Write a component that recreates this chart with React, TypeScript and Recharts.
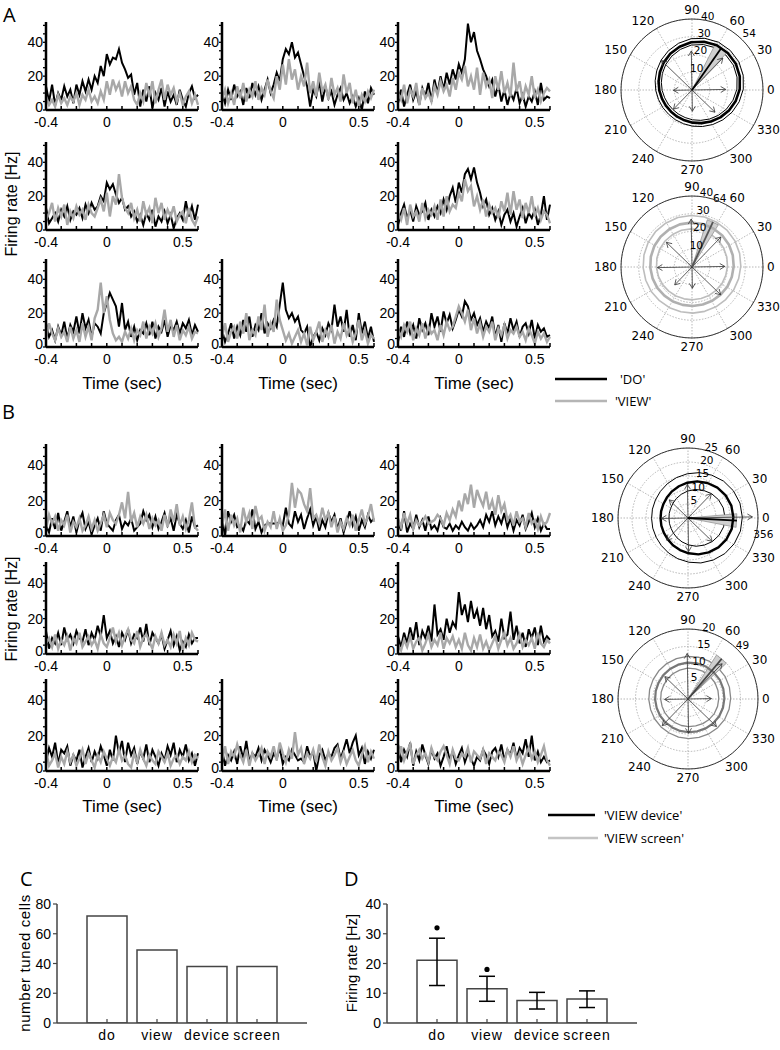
import React from "react";
import {
  LineChart, Line, XAxis, YAxis,
  RadarChart, Radar, PolarGrid, PolarAngleAxis, PolarRadiusAxis,
  ComposedChart, Bar, ErrorBar, Scatter,
} from "recharts";

const SANS = '"Liberation Sans", Arial, sans-serif';
const POLAR_FONT = '"DejaVu Sans", sans-serif';
const TITLE_FONT = '"Open Sans", sans-serif';

// ---------- PSTH data (time bins in sec, rates in Hz) ----------
const TIME = [
  -0.4, -0.38, -0.36, -0.34, -0.32, -0.3, -0.28, -0.26, -0.24, -0.22,
  -0.2, -0.18, -0.16, -0.14, -0.12, -0.1, -0.08, -0.06, -0.04, -0.02,
  0, 0.02, 0.04, 0.06, 0.08, 0.1, 0.12, 0.14, 0.16, 0.18,
  0.2, 0.22, 0.24, 0.26, 0.28, 0.3, 0.32, 0.34, 0.36, 0.38,
  0.4, 0.42, 0.44, 0.46, 0.48, 0.5, 0.52, 0.54, 0.56, 0.58,
  0.6,
];
const X_TICKS = [-0.4, -0.3, -0.2, -0.1, 0, 0.1, 0.2, 0.3, 0.4, 0.5, 0.6];
const X_LABELS = [-0.4, 0, 0.5];
const Y_TICKS = [0, 5, 10, 15, 20, 25, 30, 35, 40, 45, 50];
const Y_LABELS = [0, 20, 40];

// panel A: 'DO' (black) vs 'VIEW' (grey)
const A1_DO = [14, 5, 15, 3, 10, 6, 14, 8, 12, 4, 15, 9, 17, 11, 18, 12, 20, 16, 26, 20, 33, 27, 31, 30, 36, 28, 24, 19, 21, 9, 16, 2, 12, 5, 14, 1, 10, 6, 13, 2, 11, 5, 9, 3, 12, 6, 2, 10, 14, 7, 9];
const A1_VIEW = [8, 3, 6, 2, 9, 4, 7, 3, 8, 5, 10, 3, 9, 6, 12, 5, 8, 4, 11, 6, 17, 9, 18, 12, 16, 8, 17, 10, 14, 6, 3, 10, 5, 16, 8, 17, 4, 12, 18, 6, 15, 9, 13, 5, 10, 3, 8, 11, 4, 9, 3];
const A2_DO = [10, 4, 12, 6, 15, 8, 11, 3, 13, 7, 16, 9, 14, 6, 12, 18, 10, 15, 22, 17, 30, 36, 33, 40, 31, 34, 27, 20, 14, 2, 12, 8, 17, 5, 14, 7, 11, 3, 9, 13, 6, 10, 4, 8, 2, 7, 0, 11, 4, 13, 9];
const A2_VIEW = [6, 12, 4, 10, 3, 14, 7, 16, 5, 12, 8, 17, 6, 13, 9, 18, 11, 7, 20, 12, 27, 15, 30, 18, 24, 12, 20, 14, 28, 10, 17, 8, 22, 11, 15, 6, 19, 9, 13, 5, 21, 10, 16, 4, 12, 2, 9, 5, 11, 7, 12];
const A3_DO = [4, 12, 2, 9, 15, 6, 11, 3, 13, 8, 16, 5, 18, 10, 20, 12, 22, 15, 24, 18, 27, 22, 30, 51, 40, 46, 35, 30, 24, 20, 14, 18, 8, 15, 5, 12, 3, 10, 6, 13, 4, 9, 2, 8, 5, 11, 3, 16, 6, 8, 7];
const A3_VIEW = [10, 6, 15, 4, 12, 8, 16, 3, 13, 7, 10, 5, 14, 9, 17, 11, 15, 8, 19, 12, 22, 18, 26, 14, 20, 12, 25, 9, 22, 14, 18, 7, 20, 12, 23, 10, 16, 8, 28, 11, 17, 6, 14, 9, 20, 7, 12, 5, 10, 13, 11];
const A4_DO = [13, 4, 7, 10, 5, 12, 8, 14, 6, 11, 9, 13, 7, 15, 10, 16, 12, 14, 20, 17, 28, 24, 27, 21, 16, 19, 12, 14, 8, 11, 5, 9, 3, 10, 6, 12, 2, 8, 5, 11, 4, 9, 1, 7, 10, 6, 17, 8, 14, 6, 15];
const A4_VIEW = [6, 10, 16, 5, 13, 8, 15, 3, 11, 7, 14, 9, 12, 6, 15, 10, 8, 13, 18, 11, 22, 8, 20, 15, 33, 19, 13, 10, 16, 7, 12, 5, 17, 9, 13, 4, 19, 10, 16, 6, 12, 8, 14, 5, 9, 11, 4, 13, 6, 3, 8];
const A5_DO = [3, 10, 15, 7, 12, 5, 14, 9, 11, 16, 6, 12, 8, 14, 10, 18, 12, 20, 25, 16, 28, 22, 33, 36, 30, 37, 28, 22, 14, 18, 9, 13, 6, 11, 3, 9, 12, 5, 10, 2, 8, 13, 4, 10, 7, 12, 3, 9, 20, 6, 15];
const A5_VIEW = [10, 6, 13, 3, 15, 8, 11, 5, 16, 7, 12, 9, 14, 6, 18, 8, 20, 11, 15, 13, 22, 17, 30, 23, 26, 14, 20, 12, 18, 8, 15, 10, 13, 7, 17, 11, 22, 9, 23, 12, 18, 7, 16, 10, 20, 8, 13, 6, 11, 9, 4];
const A6_DO = [14, 6, 10, 4, 12, 7, 15, 5, 13, 9, 18, 8, 20, 11, 16, 6, 14, 12, 8, 20, 26, 32, 28, 24, 12, 26, 10, 15, 6, 12, 4, 10, 8, 14, 7, 15, 5, 12, 9, 16, 6, 13, 10, 15, 8, 14, 11, 16, 7, 13, 9];
const A6_VIEW = [5, 14, 8, 4, 11, 6, 9, 3, 12, 5, 10, 3, 14, 6, 12, 4, 17, 22, 38, 20, 30, 16, 8, 4, 6, 3, 9, 5, 11, 4, 10, 7, 15, 5, 12, 8, 14, 6, 11, 22, 9, 16, 6, 13, 4, 10, 7, 12, 5, 9, 8];
const A7_DO = [10, 3, 8, 14, 5, 12, 7, 16, 9, 18, 6, 13, 10, 20, 8, 14, 11, 16, 12, 25, 38, 22, 17, 20, 15, 18, 10, 8, 12, 0, 6, 9, 4, 11, 7, 14, 10, 25, 12, 18, 9, 22, 6, 13, 4, 20, 8, 15, 5, 12, 3];
const A7_VIEW = [6, 14, 3, 9, 12, 5, 15, 8, 20, 4, 10, 7, 18, 10, 25, 6, 14, 9, 28, 16, 10, 4, 8, 2, 6, 10, 3, 8, 1, 12, 4, 9, 15, 3, 10, 6, 13, 2, 9, 5, 14, 7, 11, 3, 8, 16, 4, 10, 2, 7, 5];
const A8_DO = [3, 12, 6, 15, 8, 13, 5, 17, 10, 14, 7, 20, 12, 18, 9, 21, 14, 19, 11, 16, 22, 18, 27, 24, 16, 20, 13, 17, 9, 15, 11, 18, 6, 13, 3, 14, 8, 17, 10, 15, 6, 12, 14, 8, 16, 5, 13, 9, 11, 6, 7];
const A8_VIEW = [10, 6, 13, 9, 15, 4, 11, 7, 14, 5, 12, 8, 10, 4, 13, 7, 15, 10, 12, 18, 24, 20, 15, 22, 10, 17, 8, 14, 6, 12, 9, 15, 4, 11, 7, 13, 5, 10, 8, 12, 6, 9, 4, 11, 7, 2, 9, 5, 8, 3, 6];

// panel B: 'VIEW device' (black) vs 'VIEW screen' (grey)
const B1_DEV = [6, 2, 10, 4, 13, 3, 8, 14, 5, 11, 2, 9, 13, 4, 8, 1, 6, 10, 3, 14, 7, 5, 3, 9, 12, 4, 8, 6, 10, 3, 5, 7, 14, 9, 12, 5, 11, 4, 8, 13, 6, 10, 3, 12, 7, 4, 9, 2, 11, 5, 6];
const B1_SCR = [4, 12, 7, 11, 3, 9, 6, 12, 2, 8, 5, 10, 3, 6, 11, 4, 9, 3, 7, 12, 5, 13, 9, 7, 12, 19, 10, 25, 8, 13, 5, 11, 7, 12, 4, 10, 6, 9, 3, 12, 5, 15, 8, 18, 6, 11, 4, 9, 19, 5, 3];
const B2_DEV = [10, 0, 14, 8, 12, 5, 6, 3, 9, 7, 15, 4, 8, 2, 6, 7, 7, 7, 7, 8, 6, 16, 7, 5, 14, 8, 12, 4, 10, 15, 6, 11, 3, 9, 5, 13, 8, 12, 4, 10, 2, 8, 14, 6, 11, 3, 9, 5, 12, 8, 10];
const B2_SCR = [5, 15, 3, 12, 6, 10, 2, 16, 8, 13, 4, 17, 9, 11, 3, 8, 5, 14, 4, 10, 3, 6, 12, 30, 16, 26, 24, 18, 14, 27, 10, 12, 7, 16, 9, 13, 5, 11, 2, 8, 4, 10, 6, 12, 3, 9, 15, 7, 11, 18, 8];
const B3_DEV = [8, 3, 14, 2, 7, 4, 12, 5, 9, 3, 11, 4, 6, 3, 10, 5, 4, 7, 3, 6, 4, 8, 5, 3, 7, 4, 6, 9, 5, 12, 8, 14, 6, 11, 7, 13, 5, 10, 3, 9, 6, 12, 4, 8, 13, 5, 10, 3, 7, 4, 4];
const B3_SCR = [10, 5, 13, 7, 12, 4, 9, 6, 8, 11, 7, 8, 9, 12, 10, 6, 13, 9, 15, 11, 20, 14, 24, 18, 29, 16, 26, 21, 17, 25, 15, 20, 12, 23, 14, 18, 9, 12, 6, 14, 8, 10, 5, 13, 7, 9, 4, 11, 6, 8, 13];
const B4_DEV = [13, 3, 9, 6, 12, 5, 15, 8, 11, 6, 13, 9, 7, 14, 5, 12, 8, 16, 10, 22, 9, 13, 6, 10, 4, 12, 8, 14, 6, 11, 9, 15, 7, 17, 5, 12, 9, 6, 11, 3, 8, 13, 5, 10, 2, 7, 4, 11, 6, 9, 9];
const B4_SCR = [6, 9, 4, 11, 3, 8, 5, 10, 2, 9, 6, 12, 4, 7, 10, 5, 8, 3, 11, 6, 4, 9, 15, 7, 12, 5, 10, 14, 8, 6, 13, 4, 9, 11, 7, 3, 10, 6, 12, 5, 8, 4, 11, 6, 13, 2, 9, 5, 12, 8, 7];
const B5_DEV = [10, 4, 12, 6, 15, 8, 18, 5, 13, 9, 16, 7, 28, 11, 14, 8, 20, 12, 18, 15, 35, 22, 28, 18, 30, 20, 25, 16, 26, 14, 22, 10, 13, 7, 20, 9, 11, 24, 8, 16, 6, 12, 4, 14, 9, 15, 5, 16, 7, 10, 8];
const B5_SCR = [5, 2, 8, 4, 10, 3, 7, 9, 2, 6, 11, 4, 8, 5, 12, 3, 9, 6, 10, 4, 8, 3, 12, 5, 2, 9, 4, 11, 3, 7, 2, 6, 10, 3, 8, 12, 5, 9, 3, 6, 11, 4, 8, 5, 9, 3, 12, 6, 4, 8, 6];
const B6_DEV = [5, 13, 8, 16, 4, 12, 10, 14, 3, 9, 6, 12, 2, 8, 13, 5, 11, 7, 14, 9, 3, 12, 6, 20, 10, 17, 5, 16, 9, 13, 4, 11, 7, 15, 5, 12, 8, 3, 10, 6, 14, 9, 16, 5, 12, 8, 15, 6, 10, 3, 10];
const B6_SCR = [12, 3, 6, 10, 2, 8, 4, 11, 5, 9, 3, 7, 12, 4, 10, 6, 2, 9, 5, 11, 7, 3, 8, 5, 12, 6, 9, 4, 2, 10, 5, 12, 7, 3, 9, 6, 4, 11, 8, 5, 10, 3, 7, 9, 4, 8, 6, 11, 5, 9, 7];
const B7_DEV = [12, 3, 9, 6, 11, 4, 14, 7, 17, 5, 10, 8, 13, 6, 12, 9, 5, 10, 7, 13, 4, 8, 6, 12, 9, 6, 7, 5, 14, 8, 11, 0, 9, 12, 6, 10, 8, 13, 15, 7, 12, 18, 10, 16, 20, 9, 13, 4, 11, 7, 12];
const B7_SCR = [6, 14, 4, 11, 8, 15, 9, 5, 12, 3, 10, 6, 9, 13, 4, 11, 8, 14, 6, 16, 10, 5, 12, 7, 22, 9, 13, 4, 10, 7, 12, 5, 15, 8, 3, 11, 6, 9, 13, 5, 10, 4, 8, 12, 6, 3, 9, 14, 5, 11, 7];
const B8_DEV = [15, 5, 12, 8, 16, 3, 11, 6, 15, 9, 4, 12, 7, 10, 3, 8, 14, 6, 11, 4, 9, 13, 5, 10, 7, 3, 8, 6, 12, 9, 4, 11, 13, 8, 15, 6, 12, 9, 16, 7, 13, 10, 18, 8, 20, 6, 11, 5, 8, 5, 6];
const B8_SCR = [8, 14, 6, 11, 15, 4, 9, 12, 7, 10, 5, 13, 8, 6, 11, 14, 9, 4, 12, 7, 6, 10, 8, 13, 5, 11, 9, 7, 12, 4, 10, 8, 6, 11, 9, 5, 12, 8, 14, 6, 10, 4, 9, 13, 7, 11, 5, 9, 14, 6, 3];

// ---------- polar tuning plots ----------
const RING_DEG = [0, 15, 30, 45, 60, 75, 90, 105, 120, 135, 150, 165, 180, 195, 210, 225, 240, 255, 270, 285, 300, 315, 330, 345];
const ARROW_DEG = [0, 45, 90, 135, 180, 225, 270, 315];
const GRID_DEG = [0, 30, 60, 90, 120, 150, 180, 210, 240, 270, 300, 330];
const ALL_DEG = Array.from({ length: 360 }, (_, i) => i);

const DO_MEAN = [26.9, 28.0, 28.8, 29.0, 28.8, 28.0, 26.9, 25.4, 23.8, 22.2, 20.7, 19.4, 18.4, 17.6, 17.2, 17.0, 17.2, 17.6, 18.4, 19.4, 20.7, 22.2, 23.8, 25.4];
const DO_HI = [28.9, 30.0, 30.8, 31.0, 30.8, 30.0, 28.9, 27.4, 25.8, 24.2, 22.7, 21.4, 20.4, 19.6, 19.2, 19.0, 19.2, 19.6, 20.4, 21.4, 22.7, 24.2, 25.8, 27.4];
const DO_LO = [25.3, 26.4, 27.2, 27.4, 27.2, 26.4, 25.3, 23.8, 22.2, 20.6, 19.1, 17.8, 16.8, 16.0, 15.6, 15.4, 15.6, 16.0, 16.8, 17.8, 19.1, 20.6, 22.2, 23.8];
const DO_ARROWS = [19, 25, 22, 24, 10.5, 15, 12, 18];

const VIEW_MEAN = [23.5, 23.9, 24.3, 24.6, 24.8, 25.0, 25.0, 25.0, 24.8, 24.6, 24.3, 23.9, 23.5, 23.1, 22.8, 22.4, 22.2, 22.0, 22.0, 22.0, 22.2, 22.4, 22.8, 23.1];
const VIEW_HI = [27.5, 27.9, 28.3, 28.6, 28.8, 29.0, 29.0, 29.0, 28.8, 28.6, 28.3, 27.9, 27.5, 27.1, 26.8, 26.4, 26.2, 26.0, 26.0, 26.0, 26.2, 26.4, 26.8, 27.1];
const VIEW_LO = [20.0, 20.4, 20.8, 21.1, 21.3, 21.5, 21.5, 21.5, 21.3, 21.1, 20.8, 20.4, 20.0, 19.6, 19.3, 18.9, 18.7, 18.5, 18.5, 18.5, 18.7, 18.9, 19.3, 19.6];
const VIEW_ARROWS = [18.5, 23.5, 27, 20, 19.5, 14, 12, 22.5];

const DEV_MEAN = [16.2, 16.1, 15.7, 15.1, 14.3, 13.5, 12.6, 11.8, 11.1, 10.5, 10.1, 9.9, 9.8, 9.9, 10.1, 10.5, 11.1, 11.8, 12.6, 13.5, 14.3, 15.1, 15.7, 16.1];
const DEV_HI = [19.4, 19.3, 18.9, 18.3, 17.5, 16.7, 15.8, 15.0, 14.3, 13.7, 13.3, 13.1, 13.0, 13.1, 13.3, 13.7, 14.3, 15.0, 15.8, 16.7, 17.5, 18.3, 18.9, 19.3];
const DEV_LO = [13.2, 13.1, 12.7, 12.1, 11.3, 10.5, 9.6, 8.8, 8.1, 7.5, 7.1, 6.9, 6.8, 6.9, 7.1, 7.5, 8.1, 8.8, 9.6, 10.5, 11.3, 12.1, 12.7, 13.1];
const DEV_ARROWS = [23, 12, 12, 9.3, 9.5, 11, 12, 12];

const SCR_MEAN = [10.4, 10.5, 10.6, 10.6, 10.6, 10.5, 10.4, 10.2, 10.0, 9.8, 9.6, 9.5, 9.4, 9.3, 9.3, 9.3, 9.3, 9.4, 9.5, 9.6, 9.8, 10.0, 10.2, 10.3];
const SCR_HI = [12.2, 12.3, 12.4, 12.4, 12.4, 12.3, 12.2, 12.0, 11.8, 11.6, 11.4, 11.3, 11.2, 11.1, 11.1, 11.1, 11.1, 11.2, 11.3, 11.4, 11.6, 11.8, 12.0, 12.1];
const SCR_LO = [8.8, 8.9, 9.0, 9.0, 9.0, 8.9, 8.8, 8.6, 8.4, 8.2, 8.0, 7.9, 7.8, 7.7, 7.7, 7.7, 7.7, 7.8, 7.9, 8.0, 8.2, 8.4, 8.6, 8.7];
const SCR_ARROWS = [6.7, 14, 13, 9.2, 6.7, 10.6, 9.8, 11.3];

// preferred direction (deg), its length, wedge edges
const PREF_DEG = [54, 64, 356, 49];
const PREF_R = [29, 28, 17.5, 15];
const WEDGE_EDGES = [[46, 62], [57, 71], [348, 4], [42, 56]];

// ---------- bar panels ----------
const CONDITIONS = ["do", "view", "device", "screen"];
const TUNED_CELLS = [72, 49, 38, 38];
const MEAN_RATE = [21.1, 11.5, 7.6, 8.1];
const RATE_UPPER = [28.5, 15.7, 10.3, 10.8];
const RATE_LOWER = [12.6, 7.3, 4.7, 5.2];
const SIGNIFICANT = [32, 18, null, null];

// ---------- PSTH chart ----------
const near = (a: number, b: number) => Math.abs(a - b) < 1e-6;

const renderXTick = (props: any) => {
  const { x, y, payload } = props;
  const v = Number(payload.value);
  const show = X_LABELS.some((l) => near(l, v));
  return (
    <g>
      <line x1={x} x2={x} y1={y} y2={y - 4} stroke="#000" strokeWidth={1.5} />
      {show && (
        <text x={x} y={y + 17} textAnchor="middle" fontSize={14} fontFamily={SANS} fill="#000">
          {near(v, 0) ? "0" : String(v)}
        </text>
      )}
    </g>
  );
};

const renderYTick = (props: any) => {
  const { x, y, payload } = props;
  const v = Number(payload.value);
  return (
    <g>
      <line x1={x} x2={x - 3} y1={y} y2={y} stroke="#000" strokeWidth={1.3} />
      {Y_LABELS.includes(v) && (
        <text x={x - 3} y={v === 0 ? y + 2 : y + 5} textAnchor="end" fontSize={14} fontFamily={SANS} fill="#000">
          {v}
        </text>
      )}
    </g>
  );
};

function Psth({ left, axisY, h, a, b }: any) {
  const rows = TIME.map((t, i) => ({ t, a: a[i], b: b[i] }));
  return (
    <div style={{ position: "absolute", left: left - 32, top: axisY - h - 4 }}>
      <LineChart width={192} height={h + 30} data={rows} margin={{ top: 4, right: 8, bottom: 0, left: 0 }}>
        <XAxis
          dataKey="t" type="number" domain={[-0.4, 0.6]} ticks={X_TICKS} height={26}
          axisLine={{ stroke: "#000", strokeWidth: 2.5 }} tickLine={false} tickSize={0} tickMargin={0}
          tick={renderXTick} interval={0}
        />
        <YAxis
          domain={[0, 52]} ticks={Y_TICKS} width={32} allowDataOverflow
          axisLine={{ stroke: "#000", strokeWidth: 2.5 }} tickLine={false} tickSize={0} tickMargin={0}
          tick={renderYTick} interval={0}
        />
        <Line type="linear" dataKey="a" stroke="#000" strokeWidth={2} dot={false} isAnimationActive={false} />
        <Line type="linear" dataKey="b" stroke="#a8a8a8" strokeWidth={2.4} dot={false} isAnimationActive={false} />
      </LineChart>
    </div>
  );
}

// ---------- polar chart ----------
// only the points that carry a value for this series
const pick = (props: any, key: string) =>
  (props.points || []).filter((p: any) => {
    const v = p.payload ? p.payload[key] : p.value;
    return v != null && Number.isFinite(p.x) && Number.isFinite(p.y);
  });

function polarRows(c: any) {
  const rows: any[] = ALL_DEG.map((d) => ({ deg: d }));
  RING_DEG.forEach((d, i) => {
    rows[d].mean = c.mean[i];
    rows[d].hi = c.hi[i];
    rows[d].lo = c.lo[i];
  });
  ARROW_DEG.forEach((d, i) => {
    rows[d].arrow = c.arrows[i];
  });
  c.wedge.forEach((d: number) => {
    rows[(d + 360) % 360].wedge = c.prefR;
  });
  rows[c.pref].pref = c.prefR;
  rows[c.noteDeg].note = c.max;
  return rows;
}

function Polar(c: any) {
  const S = 200;
  const cx = 100;
  const cy = 100;
  const rows = polarRows(c);

  const ring = (key: string, color: string, w: number) => (props: any) => {
    const pts = pick(props, key);
    return <polygon points={pts.map((p: any) => `${p.x},${p.y}`).join(" ")} fill="none" stroke={color} strokeWidth={w} strokeLinejoin="round" />;
  };
  const arrows = (props: any) => {
    const pts = pick(props, "arrow");
    return (
      <g>
        {pts.map((p: any, i: number) => {
          const dx = p.x - cx;
          const dy = p.y - cy;
          const L = Math.hypot(dx, dy) || 1;
          const ux = dx / L;
          const uy = dy / L;
          const bx = p.x - ux * 5;
          const by = p.y - uy * 5;
          return (
            <g key={i}>
              <line x1={cx} y1={cy} x2={p.x} y2={p.y} stroke="#333" strokeWidth={0.8} />
              <polyline
                points={`${bx - uy * 3},${by + ux * 3} ${p.x},${p.y} ${bx + uy * 3},${by - ux * 3}`}
                fill="none" stroke="#333" strokeWidth={0.8}
              />
            </g>
          );
        })}
      </g>
    );
  };
  const wedge = (props: any) => {
    const pts = pick(props, "wedge");
    const all = [`${cx},${cy}`, ...pts.map((p: any) => `${p.x},${p.y}`)].join(" ");
    return <polygon points={all} fill="#cfcfcf" stroke="#8a8a8a" strokeWidth={0.7} />;
  };
  const prefLine = (props: any) => {
    const pts = pick(props, "pref");
    return (
      <g>
        {pts.map((p: any, i: number) => (
          <line key={i} x1={cx} y1={cy} x2={p.x} y2={p.y} stroke={c.prefColor} strokeWidth={1.8} />
        ))}
      </g>
    );
  };
  const note = (props: any) => {
    const pts = pick(props, "note");
    return (
      <g>
        {pts.map((p: any, i: number) => {
          const dx = p.x - cx;
          const dy = p.y - cy;
          const L = Math.hypot(dx, dy) || 1;
          return (
            <text key={i} x={p.x + (dx / L) * c.noteOff} y={p.y + (dy / L) * c.noteOff}
              textAnchor="middle" dominantBaseline="central" fontSize={10.5} fontFamily={POLAR_FONT} fill="#000">
              {c.noteText}
            </text>
          );
        })}
      </g>
    );
  };
  const angleTick = (props: any) => {
    const d = Number(props.payload?.value);
    if (d % 30 !== 0) return <g />;
    const a = (d * Math.PI) / 180;
    const cos = Math.cos(a);
    const sin = Math.sin(a);
    const anchor = cos > 0.05 ? "start" : cos < -0.05 ? "end" : "middle";
    return (
      <text x={cx + (c.r + 4) * cos} y={cy - (c.r + 9) * sin} textAnchor={anchor} dominantBaseline="central"
        fontSize={12} fontFamily={POLAR_FONT} fill="#000">
        {d}
      </text>
    );
  };
  const radiusTick = (props: any) => {
    const { x, y, payload } = props;
    const dx = x - cx;
    const dy = y - cy;
    const L = Math.hypot(dx, dy) || 1;
    return (
      <text x={x + (dx / L) * 5} y={y + (dy / L) * 5} textAnchor="middle" dominantBaseline="central"
        fontSize={10.5} fontFamily={POLAR_FONT} fill="#000">
        {payload.value}
      </text>
    );
  };

  return (
    <div style={{ position: "absolute", left: c.x - cx, top: c.y - cy }}>
      <RadarChart width={S} height={S} cx={cx} cy={cy} outerRadius={c.r} startAngle={0} endAngle={360}
        data={rows} margin={{ top: 0, right: 0, bottom: 0, left: 0 }}>
        <PolarGrid gridType="circle" polarAngles={GRID_DEG} stroke="#999" strokeWidth={0.7} strokeDasharray="1.5 1.5" />
        <PolarAngleAxis dataKey="deg" tick={angleTick} tickLine={false}
          axisLine={{ stroke: "#222", strokeWidth: 0.9 }} axisLineType="circle" />
        <PolarRadiusAxis angle={c.labelAngle} type="number" domain={[0, c.max]} ticks={c.ticks} allowDataOverflow
          axisLine={false} tickLine={false} tick={radiusTick} />
        <Radar dataKey="lo" isAnimationActive={false} shape={ring("lo", c.thin, c.thinW)} />
        <Radar dataKey="hi" isAnimationActive={false} shape={ring("hi", c.thin, c.thinW)} />
        <Radar dataKey="wedge" isAnimationActive={false} shape={wedge} />
        <Radar dataKey="mean" isAnimationActive={false} shape={ring("mean", c.ring, c.ringW)} />
        <Radar dataKey="arrow" isAnimationActive={false} shape={arrows} />
        <Radar dataKey="pref" isAnimationActive={false} shape={prefLine} />
        <Radar dataKey="note" isAnimationActive={false} shape={note} />
      </RadarChart>
    </div>
  );
}

const POLARS = [
  { x: 692, y: 90, r: 71, max: 40, ticks: [10, 20, 30, 40], labelAngle: 78, mean: DO_MEAN, hi: DO_HI, lo: DO_LO, arrows: DO_ARROWS,
    pref: PREF_DEG[0], prefR: PREF_R[0], wedge: WEDGE_EDGES[0], noteDeg: 44, noteOff: 10, noteText: "54",
    ring: "#000", ringW: 2.6, thin: "#000", thinW: 1, prefColor: "#000" },
  { x: 692, y: 267, r: 71, max: 40, ticks: [10, 20, 30, 40], labelAngle: 79, mean: VIEW_MEAN, hi: VIEW_HI, lo: VIEW_LO, arrows: VIEW_ARROWS,
    pref: PREF_DEG[1], prefR: PREF_R[1], wedge: WEDGE_EDGES[1], noteDeg: 67, noteOff: 3, noteText: "64",
    ring: "#b0b0b0", ringW: 2.6, thin: "#bdbdbd", thinW: 1.6, prefColor: "#555" },
  { x: 688, y: 518, r: 70, max: 25, ticks: [5, 10, 15, 20, 25], labelAngle: 72, mean: DEV_MEAN, hi: DEV_HI, lo: DEV_LO, arrows: DEV_ARROWS,
    pref: PREF_DEG[2], prefR: PREF_R[2], wedge: WEDGE_EDGES[2], noteDeg: 347, noteOff: 7, noteText: "356",
    ring: "#000", ringW: 2.4, thin: "#000", thinW: 1, prefColor: "#000" },
  { x: 688, y: 699, r: 70, max: 20, ticks: [5, 10, 15, 20], labelAngle: 74, mean: SCR_MEAN, hi: SCR_HI, lo: SCR_LO, arrows: SCR_ARROWS,
    pref: PREF_DEG[3], prefR: PREF_R[3], wedge: WEDGE_EDGES[3], noteDeg: 44, noteOff: 7, noteText: "49",
    ring: "#777", ringW: 2.2, thin: "#888", thinW: 1.3, prefColor: "#444" },
];

// ---------- bar charts ----------
const renderCatTick = (props: any) => {
  const { x, y, payload } = props;
  return (
    <g>
      <line x1={x} x2={x} y1={y} y2={y - 4} stroke="#444" strokeWidth={1.2} />
      <text x={x} y={y + 17} textAnchor="middle" fontSize={14} fontFamily={SANS} letterSpacing={0.9} fill="#000">
        {payload.value}
      </text>
    </g>
  );
};
const renderBarYTick = (props: any) => {
  const { x, y, payload } = props;
  return (
    <g>
      <line x1={x} x2={x - 4} y1={y} y2={y} stroke="#444" strokeWidth={1.2} />
      <text x={x - 6} y={y + 5} textAnchor="end" fontSize={14} fontFamily={SANS} fill="#000">
        {payload.value}
      </text>
    </g>
  );
};

function BarPanel({ left, top, data, dataKey, max, ticks, withErr }: any) {
  return (
    <div style={{ position: "absolute", left: left - 40, top: top - 14 }}>
      <ComposedChart width={300} height={158} data={data} margin={{ top: 14, right: 10, bottom: 0, left: 0 }}>
        <XAxis dataKey="cat" padding={{ left: 25, right: 25 }} height={25}
          axisLine={{ stroke: "#444", strokeWidth: 1.5 }} tickLine={false} tickSize={0} tickMargin={0}
          tick={renderCatTick} interval={0} />
        <YAxis domain={[0, max]} ticks={ticks} width={40} allowDataOverflow
          axisLine={{ stroke: "#444", strokeWidth: 1.5 }} tickLine={false} tickSize={0} tickMargin={0}
          tick={renderBarYTick} interval={0} />
        <Bar dataKey={dataKey} barSize={40} fill="#fff" stroke="#444" strokeWidth={1.5} isAnimationActive={false}>
          {withErr && <ErrorBar dataKey="err" width={8} stroke="#000" strokeWidth={1.5} />}
        </Bar>
        {withErr && (
          <Scatter dataKey="sig" isAnimationActive={false}
            shape={(p: any) => (Number.isFinite(p.cy) && p.payload?.sig != null ? <circle cx={p.cx} cy={p.cy} r={2.6} fill="#000" /> : <g />)} />
        )}
      </ComposedChart>
    </div>
  );
}

const COL_X = [46, 222, 398];
const A_ROWS = [110, 230, 347];
const B_ROWS = [536, 654, 771];

const A_PANELS: any[] = [
  [0, 0, A1_DO, A1_VIEW], [0, 1, A2_DO, A2_VIEW], [0, 2, A3_DO, A3_VIEW],
  [1, 0, A4_DO, A4_VIEW], [1, 2, A5_DO, A5_VIEW],
  [2, 0, A6_DO, A6_VIEW], [2, 1, A7_DO, A7_VIEW], [2, 2, A8_DO, A8_VIEW],
];
const B_PANELS: any[] = [
  [0, 0, B1_DEV, B1_SCR], [0, 1, B2_DEV, B2_SCR], [0, 2, B3_DEV, B3_SCR],
  [1, 0, B4_DEV, B4_SCR], [1, 2, B5_DEV, B5_SCR],
  [2, 0, B6_DEV, B6_SCR], [2, 1, B7_DEV, B7_SCR], [2, 2, B8_DEV, B8_SCR],
];

export default function App() {
  const cData = CONDITIONS.map((cat, i) => ({ cat, n: TUNED_CELLS[i] }));
  const dData = CONDITIONS.map((cat, i) => ({
    cat,
    v: MEAN_RATE[i],
    err: [MEAN_RATE[i] - RATE_LOWER[i], RATE_UPPER[i] - MEAN_RATE[i]],
    sig: SIGNIFICANT[i],
  }));

  return (
    <div style={{ position: "absolute", left: 0, top: 0, width: 780, height: 1050, background: "#fff", overflow: "hidden" }}>
      <svg width={780} height={1050} style={{ position: "absolute", left: 0, top: 0 }}>
        <g fontFamily={TITLE_FONT} fontSize={20} fill="#000">
          <text x={3} y={22}>A</text>
          <text x={2} y={419}>B</text>
          <text x={20} y={886}>C</text>
          <text x={344} y={886}>D</text>
        </g>
        <g fontFamily={SANS} fontSize={16} fill="#000" textAnchor="middle">
          <text transform="translate(11,204) rotate(-90)" dominantBaseline="central">Firing rate [Hz]</text>
          <text transform="translate(11,609) rotate(-90)" dominantBaseline="central">Firing rate [Hz]</text>
          {COL_X.map((x) => (
            <text key={`ta${x}`} x={x + 76} y={389} fontSize={17}>Time (sec)</text>
          ))}
          {COL_X.map((x) => (
            <text key={`tb${x}`} x={x + 76} y={812} fontSize={17}>Time (sec)</text>
          ))}
          <text transform="translate(24,963) rotate(-90)" dominantBaseline="central" fontSize={15} letterSpacing={0.6}>number tuned cells</text>
          <text transform="translate(351,963) rotate(-90)" dominantBaseline="central" fontSize={15}>Firing rate [Hz]</text>
        </g>
        <g fontFamily={TITLE_FONT} fontSize={13} fill="#000">
          <line x1={555} x2={607} y1={379} y2={379} stroke="#000" strokeWidth={2.5} />
          <text x={620} y={384}>'DO'</text>
          <line x1={555} x2={607} y1={401} y2={401} stroke="#b5b5b5" strokeWidth={2.5} />
          <text x={615} y={406}>'VIEW'</text>
          <line x1={548} x2={595} y1={815} y2={815} stroke="#000" strokeWidth={2.5} />
          <text x={604} y={820}>'VIEW device'</text>
          <line x1={548} x2={598} y1={838} y2={838} stroke="#c4c4c4" strokeWidth={2.5} />
          <text x={604} y={843}>'VIEW screen'</text>
        </g>
      </svg>

      {A_PANELS.map(([r, c, a, b], i) => (
        <Psth key={`a${i}`} left={COL_X[c]} axisY={A_ROWS[r]} h={88} a={a} b={b} />
      ))}
      {B_PANELS.map(([r, c, a, b], i) => (
        <Psth key={`b${i}`} left={COL_X[c]} axisY={B_ROWS[r]} h={92} a={a} b={b} />
      ))}

      {POLARS.map((p, i) => (
        <Polar key={`p${i}`} {...p} />
      ))}

      <BarPanel left={57} top={904} data={cData} dataKey="n" max={80} ticks={[0, 20, 40, 60, 80]} />
      <BarPanel left={387} top={904} data={dData} dataKey="v" max={40} ticks={[0, 10, 20, 30, 40]} withErr />
    </div>
  );
}
